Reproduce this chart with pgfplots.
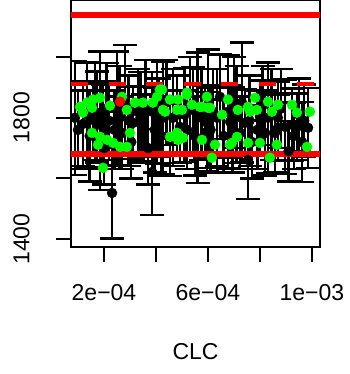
\documentclass[border=0pt]{standalone}
\usepackage{pgfplots}
\pgfplotsset{compat=1.18}
\usepackage{pgfplotstable}
\usepackage{fontspec}
\setmainfont{Liberation Sans}
\usetikzlibrary{calc}
\definecolor{rgreen}{RGB}{0,255,0}
\definecolor{rred}{RGB}{255,0,0}

\pgfplotstableread{
x y e
0.88e-4 1800 188
1.00e-4 1760 130
1.20e-4 1780 140
1.35e-4 1810 172
1.45e-4 1740 150
1.58e-4 1793 120
1.65e-4 1820 160
1.73e-4 1803 150
1.85e-4 1790 228
1.95e-4 1770 140
2.00e-4 1700 120
2.10e-4 1830 150
2.20e-4 1790 130
2.31e-4 1552 150
2.40e-4 1760 130
2.50e-4 1830 188
2.60e-4 1800 170
2.70e-4 1750 120
2.81e-4 1860 181
2.95e-4 1790 150
3.05e-4 1720 120
3.12e-4 1783 120
3.30e-4 1820 140
3.40e-4 1800 150
3.50e-4 1767 110
3.60e-4 1830 160
3.70e-4 1700 120
3.85e-4 1820 130
3.85e-4 1621 142
3.95e-4 1760 140
4.04e-4 1820 171
4.10e-4 1800 130
4.20e-4 1740 130
4.27e-4 1800 185
4.40e-4 1850 140
4.54e-4 1727 120
4.65e-4 1800 160
4.81e-4 1810 130
4.92e-4 1770 120
5.10e-4 1810 155
5.20e-4 1760 130
5.30e-4 1840 160
5.42e-4 1826 140
5.50e-4 1740 130
5.60e-4 1800 215
5.75e-4 1810 150
5.88e-4 1787 120
5.96e-4 1754 130
6.00e-4 1830 195
6.10e-4 1760 140
6.20e-4 1820 140
6.35e-4 1800 160
6.46e-4 1869 140
6.60e-4 1740 120
6.77e-4 1820 188
6.85e-4 1787 120
6.95e-4 1760 140
7.00e-4 1850 150
7.10e-4 1810 160
7.23e-4 1750 120
7.31e-4 1850 198
7.42e-4 1783 110
7.54e-4 1661 130
7.60e-4 1790 150
7.70e-4 1720 120
7.90e-4 1760 130
8.00e-4 1803 120
8.10e-4 1840 130
8.20e-4 1750 140
8.31e-4 1800 182
8.45e-4 1810 150
8.58e-4 1750 130
8.69e-4 1800 120
8.69e-4 1767 110
8.80e-4 1830 130
8.96e-4 1770 156
9.10e-4 1690 100
9.23e-4 1777 120
9.30e-4 1740 110
9.42e-4 1770 110
9.50e-4 1810 120
9.62e-4 1720 132
9.70e-4 1790 120
9.85e-4 1767 132
}\blackdata

\pgfplotstableread{
x y
1.08e-4 1836
1.19e-4 1817
1.35e-4 1850
1.58e-4 1860
1.85e-4 1866
1.54e-4 1833
2.23e-4 1840
2.69e-4 1869
2.88e-4 1826
3.19e-4 1850
3.50e-4 1850
3.88e-4 1850
4.15e-4 1893
4.04e-4 1869
4.27e-4 1826
1.54e-4 1750
1.85e-4 1737
1.77e-4 1711
2.12e-4 1727
2.35e-4 1717
2.62e-4 1704
2.88e-4 1704
3.00e-4 1750
1.96e-4 1635
4.85e-4 1860
5.19e-4 1876
5.00e-4 1826
5.38e-4 1843
5.77e-4 1836
5.96e-4 1869
6.00e-4 1833
6.54e-4 1810
6.77e-4 1860
7.15e-4 1826
7.54e-4 1836
7.81e-4 1866
7.88e-4 1826
8.31e-4 1853
8.46e-4 1820
8.69e-4 1843
9.23e-4 1843
9.42e-4 1817
9.92e-4 1820
4.81e-4 1750
5.04e-4 1734
5.77e-4 1727
6.27e-4 1711
6.85e-4 1711
7.12e-4 1737
7.54e-4 1717
8.00e-4 1717
8.65e-4 1711
9.81e-4 1704
8.38e-4 1668
4.23e-4 1893
4.35e-4 1820
4.54e-4 1860
5.19e-4 1883
4.81e-4 1826
5.69e-4 1836
6.08e-4 1833
4.54e-4 1737
4.85e-4 1727
6.92e-4 1717
6.15e-4 1668
7.62e-4 1820
}\greendata

\begin{document}
\begin{tikzpicture}
\begin{axis}[name=ax,
  scale only axis, width=249bp, height=247bp,
  xmin=0.731e-4, xmax=10.31e-4, ymin=1373.6, ymax=2188.5,
  scaled ticks=false,
  axis line style={line width=2bp, black},
  tick style={line width=2bp, black},
  major tick length=15bp, tick align=outside, tick pos=left,
  xtick={2e-4,4e-4,6e-4,8e-4,1e-3},
  xticklabels={2e−04,,6e−04,,1e−03},
  ytick={1400,1600,1800,2000},
  yticklabels={1400,,1800,},
  every tick label/.append style={font=\fontsize{23bp}{27bp}\selectfont},
  xticklabel style={anchor=center, yshift=-30.5bp},
  yticklabel style={xshift=-34.5bp, rotate=90, anchor=center},
  xlabel={CLC},
  xlabel style={font=\fontsize{23bp}{27bp}\selectfont, at={(axis description cs:0.5,0)}, anchor=center, yshift=-104.7bp},
]
\addplot[only marks, mark=*, mark size=5bp, black,
  error bars/.cd, y dir=both, y explicit, error mark=|,
  error bar style={line width=2.4bp, black},
  error mark options={line width=2.4bp, mark size=12bp, black}]
  table[x=x, y=y, y error=e] {\blackdata};
\addplot[only marks, mark=*, mark size=5bp, draw=rgreen, fill=rgreen] table[x=x, y=y] {\greendata};
\addplot[rred, line width=6bp] coordinates {(0.5e-4,2139) (11e-4,2139)};
\addplot[rred, line width=6bp] coordinates {(0.5e-4,1681) (11e-4,1681)};
\addplot[rred, line width=4bp, dash pattern=on 17bp off 20.6bp] coordinates {(0.731e-4,1912) (11e-4,1912)};
\addplot[only marks, mark=*, mark size=5bp, draw=rred, fill=rred] coordinates {(2.615e-4,1853)};
\end{axis}
\pgfresetboundingbox
\path ($(ax.south west)+(-71bp,-127bp)$) rectangle ($(ax.north east)+(29bp,0bp)$);
\end{tikzpicture}
\end{document}
